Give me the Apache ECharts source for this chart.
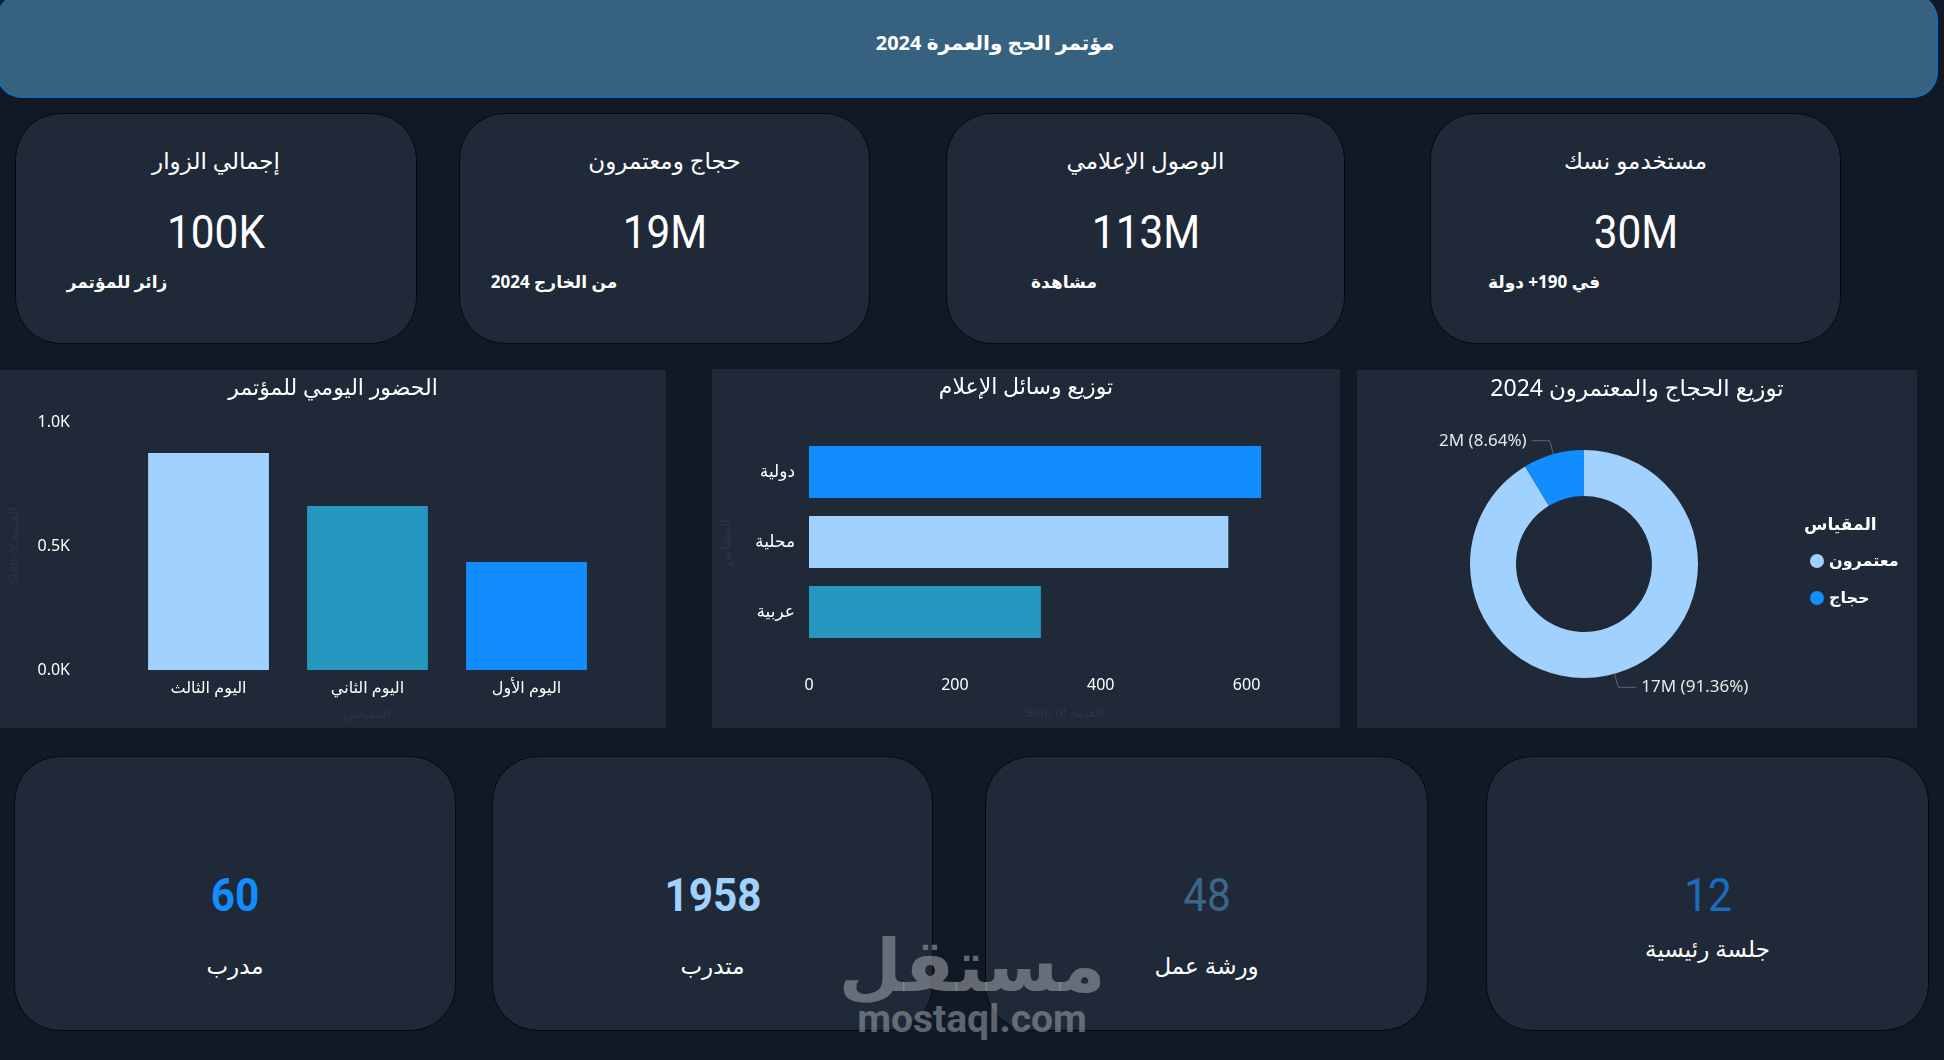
<!DOCTYPE html>
<html lang="ar">
<head>
<meta charset="utf-8">
<title>مؤتمر الحج والعمرة 2024</title>
<script src="https://cdn.jsdelivr.net/npm/echarts@6/dist/echarts.min.js"></script>
<style>
  html, body {
    margin: 0;
    padding: 0;
    width: 1944px;
    height: 1060px;
    background: #111926;
    overflow: hidden;
    font-family: 'Noto Sans', 'DejaVu Sans', sans-serif;
    color: #ffffff;
  }
  .box { position: absolute; box-sizing: border-box; }
  .header {
    left: -4px; top: -6px; width: 1942px; height: 104px;
    background: #36627f;
    border: 2px solid #1d6cb0;
    border-top: none;
    border-radius: 26px;
  }
  .card {
    background: #1f2937;
    border: 1.5px solid #06090e;
    border-radius: 46px;
  }
  .panel { background: #1f2937; }
  .txt {
    position: absolute;
    white-space: nowrap;
    transform: translate(-50%, -50%);
  }
  .kpi-title { font-size: 23px; }
  .kpi-value { font-family: Roboto, sans-serif; font-size: 46px; transform: translate(-50%, -50%) scaleX(0.92); }
  .kpi-note { font-size: 17px; font-weight: bold; }
  .big-value { font-family: Roboto, sans-serif; font-size: 46px; transform: translate(-50%, -50%) scaleX(0.92); }
  .big-label { font-size: 23px; }
  .mark { position: absolute; white-space: nowrap; color: rgba(150, 154, 160, 0.62); font-weight: bold; transform: translate(-50%, -50%); }
</style>
</head>
<body>
<div class="box header"></div>
<div class="txt" style="left:995px; top:42px; font-size:20px; font-weight:bold;">مؤتمر الحج والعمرة 2024</div>

<div id="top-cards"></div>

<div class="box panel" style="left:0; top:370px; width:666px; height:358px;"><div id="dailyChart" style="width:666px; height:358px;"></div></div>
<div class="box panel" style="left:712px; top:369px; width:628px; height:359px;"><div id="mediaChart" style="width:628px; height:359px;"></div></div>
<div class="box panel" style="left:1357px; top:370px; width:560px; height:358px;"><div id="pilgrimChart" style="width:560px; height:358px;"></div></div>

<div id="bottom-cards"></div>

<div class="mark" style="left:972px; top:962px; font-size:73px;">مستقل</div>
<div class="mark" style="left:972px; top:1019px; font-size:39px; font-family:Roboto, sans-serif;">mostaql.com</div>

<script>
// بطاقات المؤشرات العلوية
const kpiTitles = ['إجمالي الزوار', 'حجاج ومعتمرون', 'الوصول الإعلامي', 'مستخدمو نسك']
const kpiValues = ['100K', '19M', '113M', '30M']
const kpiNotes = ['زائر للمؤتمر', 'من الخارج 2024', 'مشاهدة', 'في 190+ دولة']

// الحضور اليومي
const dayCats = ['اليوم الثالث', 'اليوم الثاني', 'اليوم الأول']
const dayValues = [875, 661, 435]
const dayTicks = [0, 500, 1000]

// وسائل الإعلام
const mediaCats = ['دولية', 'محلية', 'عربية']
const mediaValues = [620, 575, 318]
const mediaTicks = [0, 200, 400, 600]

// الحجاج والمعتمرون
const pilgrimCats = ['معتمرون', 'حجاج']
const pilgrimValues = [16990000, 1607000]

// البطاقات السفلية
const bottomValues = [60, 1958, 48, 12]
const bottomLabels = ['مدرب', 'متدرب', 'ورشة عمل', 'جلسة رئيسية']

// ---- layout & style ----
const topRects = [[15, 113, 402, 231], [459, 113, 411, 231], [946, 113, 399, 231], [1430, 113, 411, 231]]
const noteX = [117, 554, 1064, 1544]
const bottomRects = [[14, 756, 442, 275], [492, 756, 441, 275], [985, 756, 443, 275], [1486, 756, 443, 275]]
const bottomColors = ['#118dff', '#a0d1ff', '#3a6689', '#1a6cc0']
const bottomWeights = ['bold', 'bold', 'normal', 'normal']
const bottomLabelY = [965, 965, 965, 948]

const barColors = ['#a0d1ff', '#2596be', '#118dff']
const mediaColors = ['#118dff', '#a0d1ff', '#2596be']
const pieColors = ['#a0d1ff', '#118dff']
const font = "'Noto Sans', 'DejaVu Sans', sans-serif"
const faint = '#2b3545'

const addText = (parent, cls, text, x, y, extra) => {
  const d = document.createElement('div')
  d.className = 'txt ' + cls
  d.textContent = text
  d.style.left = x + 'px'
  d.style.top = y + 'px'
  if (extra) Object.assign(d.style, extra)
  parent.appendChild(d)
}

const topBox = document.getElementById('top-cards')
topRects.forEach((r, i) => {
  const c = document.createElement('div')
  c.className = 'box card'
  Object.assign(c.style, { left: r[0] + 'px', top: r[1] + 'px', width: r[2] + 'px', height: r[3] + 'px' })
  topBox.appendChild(c)
  const cx = r[0] + r[2] / 2
  addText(topBox, 'kpi-title', kpiTitles[i], cx, 160)
  addText(topBox, 'kpi-value', kpiValues[i], cx, 232)
  addText(topBox, 'kpi-note', kpiNotes[i], noteX[i], 281)
})

const bottomBox = document.getElementById('bottom-cards')
bottomRects.forEach((r, i) => {
  const c = document.createElement('div')
  c.className = 'box card'
  Object.assign(c.style, { left: r[0] + 'px', top: r[1] + 'px', width: r[2] + 'px', height: r[3] + 'px' })
  bottomBox.appendChild(c)
  const cx = r[0] + r[2] / 2
  addText(bottomBox, 'big-value', String(bottomValues[i]), cx, 895, { color: bottomColors[i], fontWeight: bottomWeights[i] })
  addText(bottomBox, 'big-label', bottomLabels[i], cx, bottomLabelY[i])
})

const titleStyle = { color: '#ffffff', fontSize: 22, fontWeight: 'normal', fontFamily: font }

// الحضور اليومي للمؤتمر
const dailyChart = echarts.init(document.getElementById('dailyChart'))
dailyChart.setOption({
  title: { text: 'الحضور اليومي للمؤتمر', left: 'center', top: 3, textStyle: titleStyle },
  grid: { left: 126, right: 60, top: 52, bottom: 58 },
  xAxis: {
    type: 'category',
    data: dayCats,
    axisLine: { show: false },
    axisTick: { show: false },
    axisLabel: { color: '#ffffff', fontSize: 16, margin: 10, fontFamily: font },
    name: 'المقياس',
    nameLocation: 'middle',
    nameGap: 38,
    nameTextStyle: { color: faint, fontSize: 13 }
  },
  yAxis: {
    type: 'value',
    min: dayTicks[0],
    max: dayTicks[dayTicks.length - 1],
    interval: dayTicks[1] - dayTicks[0],
    splitLine: { show: false },
    axisLabel: {
      color: '#ffffff',
      fontSize: 16,
      margin: 59,
      fontFamily: font,
      formatter: v => (v / 1000).toFixed(1) + 'K'
    },
    name: 'Sum of القيمة',
    nameLocation: 'middle',
    nameGap: 108,
    nameTextStyle: { color: faint, fontSize: 13 }
  },
  series: [{
    type: 'bar',
    barCategoryGap: '24%',
    data: dayValues.map((v, i) => ({ value: v, itemStyle: { color: barColors[i] } }))
  }],
  animation: false
})

// توزيع وسائل الإعلام
const mediaChart = echarts.init(document.getElementById('mediaChart'))
mediaChart.setOption({
  title: { text: 'توزيع وسائل الإعلام', left: 'center', top: 3, textStyle: titleStyle },
  grid: { left: 93, right: 20.5, top: 68, bottom: 81 },
  xAxis: {
    type: 'value',
    min: mediaTicks[0],
    max: 700,
    interval: mediaTicks[1] - mediaTicks[0],
    splitLine: { show: false },
    axisLabel: { color: '#ffffff', fontSize: 16, margin: 30, fontFamily: font, showMaxLabel: false },
    name: 'Sum of القيمة',
    nameLocation: 'middle',
    nameGap: 60,
    nameTextStyle: { color: faint, fontSize: 13 }
  },
  yAxis: {
    type: 'category',
    inverse: true,
    data: mediaCats,
    axisLine: { show: false },
    axisTick: { show: false },
    axisLabel: { color: '#ffffff', fontSize: 17, margin: 14, fontFamily: font },
    name: 'المقياس',
    nameLocation: 'middle',
    nameGap: 76,
    nameTextStyle: { color: faint, fontSize: 13 }
  },
  series: [{
    type: 'bar',
    barCategoryGap: '26%',
    data: mediaValues.map((v, i) => ({ value: v, itemStyle: { color: mediaColors[i] } }))
  }],
  animation: false
})

// توزيع الحجاج والمعتمرون 2024
const pilgrimChart = echarts.init(document.getElementById('pilgrimChart'))
pilgrimChart.setOption({
  title: { text: 'توزيع الحجاج والمعتمرون 2024', left: 'center', top: 3, textStyle: Object.assign({}, titleStyle, { fontSize: 23 }) },
  legend: {
    orient: 'vertical',
    left: 448,
    top: 178,
    icon: 'circle',
    itemWidth: 14,
    itemHeight: 14,
    itemGap: 21,
    data: pilgrimCats,
    textStyle: { color: '#ffffff', fontSize: 16, fontWeight: 'bold', fontFamily: font }
  },
  graphic: [{
    type: 'text',
    left: 447,
    top: 147,
    style: { text: 'المقياس', fill: '#ffffff', fontSize: 17, fontWeight: 'bold', fontFamily: font }
  }],
  series: [{
    type: 'pie',
    center: [227, 194],
    radius: [68, 114],
    startAngle: 90,
    clockwise: true,
    color: pieColors,
    data: pilgrimCats.map((n, i) => ({ name: n, value: pilgrimValues[i] })),
    label: {
      color: '#e8e8e8',
      fontSize: 17,
      fontFamily: font,
      formatter: p => Math.round(p.value / 1e6) + 'M (' + p.percent.toFixed(2) + '%)'
    },
    labelLine: { length: 14, length2: 18, lineStyle: { color: '#5d6774', width: 1 } }
  }],
  animation: false
})
</script>
</body>
</html>
